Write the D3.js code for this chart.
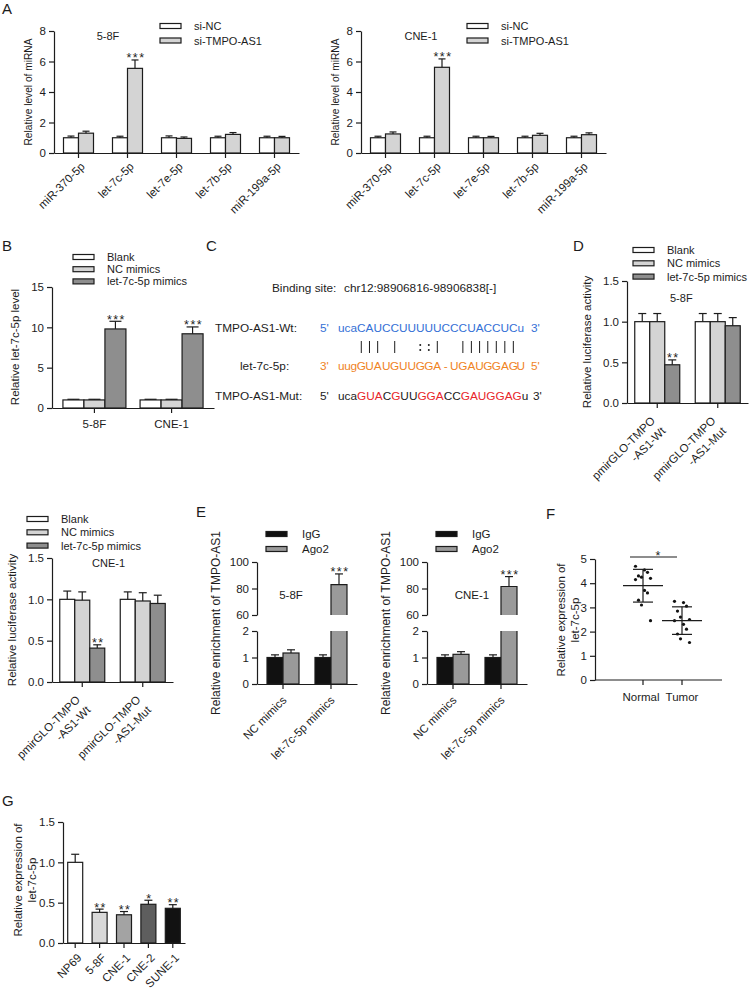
<!DOCTYPE html>
<html><head><meta charset="utf-8">
<script src="https://cdn.jsdelivr.net/npm/d3@7"></script>
<style>
body{margin:0;background:#fff;}
svg text{font-family:"Liberation Sans",Arial,Helvetica,sans-serif;}
</style></head><body>
<script>
// ================= DATA =================
// Panel A
const aCategories = ["miR-370-5p","let-7c-5p","let-7e-5p","let-7b-5p","miR-199a-5p"];
const aSeries = ["si-NC","si-TMPO-AS1"];
const a58F_siNC = [1.00,1.00,1.00,1.00,1.00];
const a58F_siNC_sd = [0.11,0.10,0.12,0.10,0.10];
const a58F_siT = [1.30,5.55,0.96,1.22,1.00];
const a58F_siT_sd = [0.13,0.55,0.09,0.12,0.09];
const a58F_sig = ["","***","","",""];
const aCNE_siNC = [1.00,1.00,1.00,1.00,1.00];
const aCNE_siNC_sd = [0.10,0.10,0.10,0.10,0.10];
const aCNE_siT = [1.25,5.62,1.00,1.16,1.20];
const aCNE_siT_sd = [0.13,0.55,0.09,0.13,0.12];
const aCNE_sig = ["","***","","",""];
const aTicks = [0,2,4,6,8];

// Panel B
const bCategories = ["5-8F","CNE-1"];
const bSeries = ["Blank","NC mimics","let-7c-5p mimics"];
const bBlank = [1.0,1.0];
const bBlank_sd = [0.08,0.08];
const bNC = [1.0,1.0];
const bNC_sd = [0.08,0.08];
const bMimics = [9.8,9.2];
const bMimics_sd = [0.95,0.85];
const bSig = ["***","***"];
const bTicks = [0,5,10,15];

// Panel C
const cBindingSite = "chr12:98906816-98906838[-]";
const cWtSeq = "ucaCAUCCUUUUUCCCUACCUCu";
const cPairs = "   ||| |  ::|  ||||||| ";
const cMirSeq = "uugGUAUGUUGGA- UGAUGGAGU";
const cMutSeq = "ucaGUACGUUGGACCGAUGGAGu";

// Panel D (5-8F) and D (CNE-1)
const dCategories = ["pmirGLO-TMPO-AS1-Wt","pmirGLO-TMPO-AS1-Mut"];
const dLabels = [["pmirGLO-TMPO","-AS1-Wt"],["pmirGLO-TMPO","-AS1-Mut"]];
const dSeries = ["Blank","NC mimics","let-7c-5p mimics"];
const d58F_blank = [1.0,1.0];
const d58F_blank_sd = [0.1,0.1];
const d58F_nc = [1.0,1.0];
const d58F_nc_sd = [0.1,0.1];
const d58F_mim = [0.47,0.95];
const d58F_mim_sd = [0.06,0.1];
const d58F_sig = ["**",""];
const dCNE_blank = [1.0,1.0];
const dCNE_blank_sd = [0.1,0.09];
const dCNE_nc = [0.99,0.98];
const dCNE_nc_sd = [0.1,0.1];
const dCNE_mim = [0.41,0.95];
const dCNE_mim_sd = [0.04,0.1];
const dCNE_sig = ["**",""];
const dTicks = [0,0.5,1.0,1.5];

// Panel E
const eCategories = ["NC mimics","let-7c-5p mimics"];
const eSeries = ["IgG","Ago2"];
const e58F_IgG = [1.0,1.0];
const e58F_IgG_sd = [0.1,0.1];
const e58F_Ago2 = [1.17,83];
const e58F_Ago2_sd = [0.12,8];
const eCNE_IgG = [1.0,1.0];
const eCNE_IgG_sd = [0.1,0.1];
const eCNE_Ago2 = [1.12,81.5];
const eCNE_Ago2_sd = [0.1,7.5];
const eSig = ["","***"];
const eTicksLow = [0,1,2];
const eTicksHigh = [60,80,100];

// Panel F
const fGroups = ["Normal","Tumor"];
const fNormal = [4.7,4.55,4.45,4.3,4.25,4.2,4.15,3.7,3.6,3.3,3.1,2.45];
const fTumor = [3.25,3.2,3.05,2.85,2.6,2.5,2.45,2.3,2.1,1.9,1.7,1.55];
const fSig = "*";
const fTicks = [0,1,2,3,4,5];

// Panel G
const gCategories = ["NP69","5-8F","CNE-1","CNE-2","SUNE-1"];
const gValues = [1.0,0.38,0.35,0.48,0.43];
const gSD = [0.1,0.04,0.04,0.05,0.045];
const gSig = ["","**","**","*","**"];
const gTicks = [0,0.5,1.0,1.5];

// ================= DRAWING =================
const INK = "#1c1c1c", LW = 1.2, FS = 11.5;
const FONT = '"Liberation Sans", Arial, Helvetica, sans-serif';
const WHITE = "#ffffff", LIGHT = "#d4d4d4", DARK = "#8e8e8e";
const svg = d3.select("body").append("svg").attr("width",750).attr("height",991);

function txt(x,y,s,o={}){
  const t = svg.append("text").attr("x",x).attr("y",y).text(s)
    .attr("font-size",o.size||FS).attr("fill",o.fill||INK)
    .attr("text-anchor",o.anchor||"start");
  if(o.ls) t.attr("letter-spacing",o.ls);
  return t;
}
function panelLabel(x,y,s){ txt(x,y,s,{size:15}); }
function styleAxis(g){
  g.attr("font-family",FONT).attr("font-size",FS);
  g.selectAll("path,line").attr("stroke",INK).attr("stroke-width",LW);
  g.selectAll("text").attr("fill",INK);
}
function yLeft(x,y,ticks,fmt){
  const g = svg.append("g").attr("transform",`translate(${x},0)`)
    .call(d3.axisLeft(y).tickValues(ticks).tickSize(5).tickSizeOuter(0).tickPadding(3).tickFormat(fmt||d3.format("d")));
  styleAxis(g);
  return g;
}
function xBottom(yPos,xs){
  const g = svg.append("g").attr("transform",`translate(0,${yPos})`)
    .call(d3.axisBottom(xs).tickSize(5).tickSizeOuter(0).tickFormat(""));
  styleAxis(g);
  return g;
}
function yTitle(x,cy,lines,size){
  const t = svg.append("text").attr("transform",`translate(${x},${cy}) rotate(-90)`)
    .attr("text-anchor","middle").attr("font-size",size||FS).attr("fill",INK);
  lines.forEach((l,i)=>t.append("tspan").attr("x",0).attr("dy",i?"1.25em":0).text(l));
}
function legend(x,y0,dy,items,tx,size){
  items.forEach((it,i)=>{
    const y = y0 + i*dy;
    svg.append("rect").attr("x",x).attr("y",y-2.5).attr("width",21).attr("height",5)
      .attr("fill",it.fill).attr("stroke",INK).attr("stroke-width",LW);
    txt(tx,y+4,it.label,{size:size||11});
  });
}
function rotLabels(xs,axisY,labels,dx,y1,lh){
  const g = svg.append("g");
  g.selectAll("text").data(xs.domain()).join("text")
    .attr("transform",c=>`translate(${xs(c)+xs.bandwidth()/2},${axisY}) rotate(-45)`)
    .attr("text-anchor","end").attr("font-size",FS).attr("fill",INK)
    .each(function(c,i){
      const ls = Array.isArray(labels[i]) ? labels[i] : [labels[i]];
      ls.forEach((l,j)=>d3.select(this).append("tspan").attr("x",dx).attr("y",y1+j*lh).text(l));
    });
}
// grouped bars with error bars and significance marks
function groupBars(xs,y,series,bw,capW){
  const n = series.length;
  series.forEach((s,si)=>{
    const rows = xs.domain().map((c,i)=>({c,i,v:s.vals[i],e:s.sds[i],sig:s.sig?s.sig[i]:""}));
    const bx = d=>xs(d.c)+xs.bandwidth()/2 - n*bw/2 + si*bw;
    const fill = d=> typeof s.fill==="function" ? s.fill(d) : s.fill;
    svg.append("g").selectAll("rect").data(rows).join("rect")
      .attr("x",bx).attr("y",d=>y(d.v)).attr("width",bw).attr("height",d=>y(0)-y(d.v))
      .attr("fill",fill).attr("stroke",INK).attr("stroke-width",LW);
    const eg = svg.append("g").attr("stroke",INK).attr("stroke-width",LW);
    eg.selectAll("line.v").data(rows).join("line").attr("class","v")
      .attr("x1",d=>bx(d)+bw/2).attr("x2",d=>bx(d)+bw/2)
      .attr("y1",d=>y(d.v)).attr("y2",d=>y(d.v+d.e));
    eg.selectAll("line.c").data(rows).join("line").attr("class","c")
      .attr("x1",d=>bx(d)+bw/2-capW/2).attr("x2",d=>bx(d)+bw/2+capW/2)
      .attr("y1",d=>y(d.v+d.e)).attr("y2",d=>y(d.v+d.e));
    svg.append("g").selectAll("text").data(rows.filter(d=>d.sig)).join("text")
      .attr("x",d=>bx(d)+bw/2+1).attr("y",d=>y(d.v+d.e)+2.5)
      .attr("text-anchor","middle").attr("font-size",12.5).attr("letter-spacing",1.5)
      .attr("fill",INK).text(d=>d.sig);
  });
}

// ---------- Panel A ----------
panelLabel(2,14,"A");
function panelA(x0,title,titleX,legX,nc,ncsd,si,sisd,sig){
  const xs = d3.scaleBand().domain(aCategories).range([x0,x0+245]);
  const y = d3.scaleLinear().domain([0,8]).range([153,31]);
  groupBars(xs,y,[
    {vals:nc,sds:ncsd,fill:WHITE},
    {vals:si,sds:sisd,fill:LIGHT,sig:sig}],15,7);
  yLeft(x0,y,aTicks);
  xBottom(153,xs);
  rotLabels(xs,153,aCategories,-5,15,0);
  yTitle(x0-22,92,["Relative level of miRNA"],10.2);
  txt(titleX,40,title,{anchor:"middle",size:11});
  legend(legX,26,14.5,[{label:aSeries[0],fill:WHITE},{label:aSeries[1],fill:LIGHT}],legX+34,11);
}
panelA(54,"5-8F",108,160,a58F_siNC,a58F_siNC_sd,a58F_siT,a58F_siT_sd,a58F_sig);
panelA(361,"CNE-1",421,467,aCNE_siNC,aCNE_siNC_sd,aCNE_siT,aCNE_siT_sd,aCNE_sig);

// ---------- Panel B ----------
panelLabel(2,251,"B");
{
  const xs = d3.scaleBand().domain(bCategories).range([52,214]).paddingOuter(0.05);
  const y = d3.scaleLinear().domain([0,15]).range([408,287]);
  groupBars(xs,y,[
    {vals:bBlank,sds:bBlank_sd,fill:WHITE},
    {vals:bNC,sds:bNC_sd,fill:LIGHT},
    {vals:bMimics,sds:bMimics_sd,fill:DARK,sig:bSig}],21,12);
  yLeft(52,y,bTicks);
  xBottom(408,xs);
  svg.append("g").selectAll("text").data(bCategories).join("text")
    .attr("x",c=>xs(c)+xs.bandwidth()/2).attr("y",428).attr("text-anchor","middle")
    .attr("font-size",FS).attr("fill",INK).text(c=>c);
  yTitle(19,347,["Relative let-7c-5p level"]);
  legend(73,257,12.2,bSeries.map((s,i)=>({label:s,fill:[WHITE,LIGHT,DARK][i]})),107,11);
}

// ---------- Panel C ----------
panelLabel(206,251,"C");
{
  const CF = 11.8, BLUE = "#3470d6", ORANGE = "#f0841f", RED = "#e8262b";
  // Arial / Liberation Sans advance widths (em) used to lay out the sequences letter by letter
  const adv = {u:.556,c:.5,a:.556,g:.556,C:.722,A:.667,U:.722,G:.778,"-":.333," ":.278};
  const x0 = 338;
  const pos = [];
  let acc = 0;
  for(const ch of cWtSeq){ pos.push(x0+acc); acc += (adv[ch]||.6)*CF; }
  const centers = cWtSeq.split("").map((ch,i)=>pos[i]+(adv[ch]||.6)*CF/2);

  txt(272,292,"Binding site:",{size:CF});
  txt(344,292,cBindingSite,{size:CF});
  txt(215,332,"TMPO-AS1-Wt:",{size:CF});
  txt(320,332,"5'",{size:CF,fill:BLUE});
  const wt = txt(x0,332,"",{size:CF,fill:BLUE});
  wt.selectAll("tspan").data(cWtSeq.split("")).join("tspan").attr("x",(d,i)=>pos[i]).text(d=>d);
  txt(531,332,"3'",{size:CF,fill:BLUE});

  const pg = svg.append("g").attr("stroke",INK).attr("stroke-width",1);
  const pairs = cPairs.split("").map((ch,i)=>({ch,i})).filter(d=>d.ch!==" ");
  pg.selectAll("line").data(pairs.filter(d=>d.ch==="|")).join("line")
    .attr("x1",d=>centers[d.i]).attr("x2",d=>centers[d.i]).attr("y1",341).attr("y2",353);
  svg.append("g").selectAll("circle").data(pairs.filter(d=>d.ch===":").flatMap(d=>[{i:d.i,k:0},{i:d.i,k:1}]))
    .join("circle").attr("cx",d=>centers[d.i]).attr("cy",d=>d.k?350:345).attr("r",1).attr("fill",INK);

  // let-7c-5p (3'->5') letters placed under their partner positions of the target
  txt(240,370,"let-7c-5p:",{size:CF});
  txt(320,370,"3'",{size:CF,fill:ORANGE});
  const mirChars = cMirSeq.split("").filter(ch=>ch!==" ");
  const mir = txt(0,370,"",{size:CF,fill:ORANGE});
  mir.selectAll("tspan").data(mirChars).join("tspan")
    .attr("x",(d,i)=>centers[i]-(adv[d]||.6)*CF/2).text(d=>d);
  txt(531,370,"5'",{size:CF,fill:ORANGE});

  txt(215,400,"TMPO-AS1-Mut:",{size:CF});
  txt(320,400,"5'",{size:CF});
  const mt = txt(x0,400,"",{size:CF});
  mt.selectAll("tspan").data(cMutSeq.split("")).join("tspan")
    .attr("fill",(ch,i)=> ch!==cWtSeq[i] ? RED : INK).text(d=>d);
  txt(533,400,"3'",{size:CF});
}

// ---------- Panel D (both cell lines) ----------
function panelD(x0,yBottom,yTop,title,titleX,titleY,legX,legY,yTitleX,blank,blanksd,nc,ncsd,mim,mimsd,sig){
  const xs = d3.scaleBand().domain(dCategories).range([x0,x0+121]);
  const y = d3.scaleLinear().domain([0,1.5]).range([yBottom,yTop]);
  groupBars(xs,y,[
    {vals:blank,sds:blanksd,fill:WHITE},
    {vals:nc,sds:ncsd,fill:LIGHT},
    {vals:mim,sds:mimsd,fill:DARK,sig:sig}],15,8);
  yLeft(x0,y,dTicks,d3.format(".1f"));
  xBottom(yBottom,xs);
  rotLabels(xs,yBottom,dLabels,-14,12,14.8);
  yTitle(yTitleX,(yBottom+yTop)/2,["Relative luciferase activity"]);
  txt(titleX,titleY,title,{size:11});
  legend(legX,legY,13.3,dSeries.map((s,i)=>({label:s,fill:[WHITE,LIGHT,DARK][i]})),legX+34,11);
}
panelLabel(573,251,"D");
panelD(627,403,281,"5-8F",670,302,633,250,591,d58F_blank,d58F_blank_sd,d58F_nc,d58F_nc_sd,d58F_mim,d58F_mim_sd,d58F_sig);
panelD(52,682,558,"CNE-1",92,567,27,519,16,dCNE_blank,dCNE_blank_sd,dCNE_nc,dCNE_nc_sd,dCNE_mim,dCNE_mim_sd,dCNE_sig);

// ---------- Panel E ----------
panelLabel(196,517,"E");
function panelE(x0,title,titleX,igg,iggsd,ago,agosd){
  const xs = d3.scaleBand().domain(eCategories).range([x0,x0+100]).paddingOuter(0.042);
  const yLow = d3.scaleLinear().domain([0,2]).range([684,631]);
  const yHigh = d3.scaleLinear().domain([60,100]).range([615,562]);
  const bw = 16;
  const series = [{vals:igg,sds:iggsd,fill:"#111111"},{vals:ago,sds:agosd,fill:"#9a9a9a",sig:eSig}];
  series.forEach((s,si)=>{
    const rows = eCategories.map((c,i)=>({c,v:s.vals[i],e:s.sds[i],sig:s.sig?s.sig[i]:""}));
    const bx = d=>xs(d.c)+xs.bandwidth()/2 - bw + si*bw;
    const g = svg.append("g");
    rows.forEach(d=>{
      const x = bx(d);
      const seg = d.v<=2 ? yLow : yHigh;
      if(d.v<=2){
        g.append("rect").attr("x",x).attr("y",yLow(d.v)).attr("width",bw).attr("height",yLow(0)-yLow(d.v))
          .attr("fill",s.fill).attr("stroke",INK).attr("stroke-width",LW);
      } else {
        g.append("path").attr("d",`M${x},${yLow(2)}V${yLow(0)}H${x+bw}V${yLow(2)}`)
          .attr("fill",s.fill).attr("stroke",INK).attr("stroke-width",LW);
        g.append("path").attr("d",`M${x},${yHigh(60)}V${yHigh(d.v)}H${x+bw}V${yHigh(60)}`)
          .attr("fill",s.fill).attr("stroke",INK).attr("stroke-width",LW);
      }
      g.append("line").attr("x1",x+bw/2).attr("x2",x+bw/2).attr("y1",seg(d.v)).attr("y2",seg(d.v+d.e)).attr("stroke",INK).attr("stroke-width",LW);
      g.append("line").attr("x1",x+bw/2-4).attr("x2",x+bw/2+4).attr("y1",seg(d.v+d.e)).attr("y2",seg(d.v+d.e)).attr("stroke",INK).attr("stroke-width",LW);
      if(d.sig) g.append("text").attr("x",x+bw/2+1).attr("y",seg(d.v+d.e)+2.5).attr("text-anchor","middle")
        .attr("font-size",12.5).attr("letter-spacing",1.5).attr("fill",INK).text(d.sig);
    });
  });
  yLeft(x0,yLow,eTicksLow);
  yLeft(x0,yHigh,eTicksHigh);
  xBottom(684,xs);
  rotLabels(xs,684,eCategories,-9,15,0);
  yTitle(x0-37,623,["Relative enrichment of TMPO-AS1"],12);
  txt(titleX,599,title,{anchor:"middle"});
  const lx = x0+9;
  svg.append("rect").attr("x",lx).attr("y",531.5).attr("width",21).attr("height",5).attr("fill","#111").attr("stroke",INK).attr("stroke-width",LW);
  txt(lx+36,538,eSeries[0]);
  svg.append("rect").attr("x",lx).attr("y",546.5).attr("width",21).attr("height",5).attr("fill","#9a9a9a").attr("stroke",INK).attr("stroke-width",LW);
  txt(lx+36,553,eSeries[1]);
}
panelE(257,"5-8F",291,e58F_IgG,e58F_IgG_sd,e58F_Ago2,e58F_Ago2_sd);
panelE(427,"CNE-1",472,eCNE_IgG,eCNE_IgG_sd,eCNE_Ago2,eCNE_Ago2_sd);

// ---------- Panel F ----------
panelLabel(546,519,"F");
{
  const y = d3.scaleLinear().domain([0,5]).range([680,559]);
  const xs = d3.scalePoint().domain(fGroups).range([643,682]);
  const groups = [fNormal,fTumor];
  const g = svg.append("g");
  groups.forEach((vals,gi)=>{
    const cx = xs(fGroups[gi]);
    const m = d3.mean(vals), sd = d3.deviation(vals);
    g.selectAll(null).data(vals).join("circle")
      .attr("cx",(d,i)=>cx + ((i%3)-1)*6 + (i%2?1.5:-1.5)).attr("cy",d=>y(d)).attr("r",1.6).attr("fill","#111");
    g.append("line").attr("x1",cx-20).attr("x2",cx+20).attr("y1",y(m)).attr("y2",y(m)).attr("stroke",INK).attr("stroke-width",LW);
    g.append("line").attr("x1",cx).attr("x2",cx).attr("y1",y(m-sd)).attr("y2",y(m+sd)).attr("stroke",INK).attr("stroke-width",LW);
    [m-sd,m+sd].forEach(v=>g.append("line").attr("x1",cx-10).attr("x2",cx+10).attr("y1",y(v)).attr("y2",y(v)).attr("stroke",INK).attr("stroke-width",LW));
  });
  yLeft(595,y,fTicks);
  const ax = svg.append("g").attr("transform","translate(0,680)");
  ax.append("line").attr("x1",595).attr("x2",722).attr("y1",0).attr("y2",0);
  ax.selectAll("line.t").data(fGroups).join("line").attr("class","t").attr("x1",d=>xs(d)).attr("x2",d=>xs(d)).attr("y1",0).attr("y2",5);
  ax.selectAll("line").attr("stroke",INK).attr("stroke-width",LW);
  svg.append("g").selectAll("text").data(fGroups).join("text")
    .attr("x",d=>xs(d)+(d==="Normal"?-2:0)).attr("y",701).attr("text-anchor","middle")
    .attr("font-size",FS).attr("fill",INK).text(d=>d);
  svg.append("line").attr("x1",630).attr("x2",677).attr("y1",557).attr("y2",557).attr("stroke",INK).attr("stroke-width",LW);
  txt(658,560,fSig,{anchor:"middle",size:12.5});
  yTitle(565,620,["Relative expression of","let-7c-5p"]);
}

// ---------- Panel G ----------
panelLabel(2,806,"G");
{
  const xs = d3.scaleBand().domain(gCategories).range([63,185]);
  const y = d3.scaleLinear().domain([0,1.5]).range([943,822]);
  const fills = ["#ffffff","#d9d9d9","#a3a3a3","#5e5e5e","#121212"];
  groupBars(xs,y,[{vals:gValues,sds:gSD,fill:d=>fills[d.i],sig:gSig}],15,8);
  yLeft(63,y,gTicks,d3.format(".1f"));
  xBottom(943,xs);
  rotLabels(xs,943,gCategories,-6,16,0);
  yTitle(22,880,["Relative expression of","let-7c-5p"]);
}
</script>
</body></html>
